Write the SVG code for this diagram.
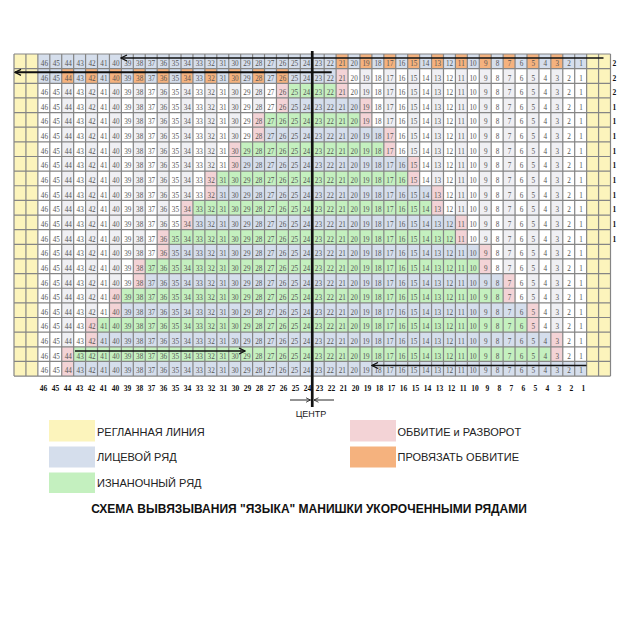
<svg xmlns="http://www.w3.org/2000/svg" width="617" height="624" viewBox="0 0 617 624">
<style>
.y{fill:#fcf4bc}
.b{fill:#d5deec}
.g{fill:#c4f0bf}
.p{fill:#f3d3d6}
.o{fill:#f5b27e}
.f{fill:#efeff3}
.grid{fill:none;stroke:#858585;stroke-width:1.2}
.num{font-family:"Liberation Serif","Times New Roman",serif;font-size:7.2px;fill:#555}
.n2{word-spacing:2.93px}
.n1{word-spacing:6.53px}
.lab{font-family:"Liberation Serif","Times New Roman",serif;font-size:7.5px;font-weight:bold;fill:#111}
.l2{word-spacing:2.625px}
.l1{word-spacing:6.375px}
.leg{font-family:"Liberation Sans",Arial,sans-serif;font-size:11px;fill:#222}
.ttl{font-family:"Liberation Sans",Arial,sans-serif;font-size:12px;font-weight:bold;fill:#111}
.arr{fill:none;stroke:#111;stroke-width:1.5}
</style>
<defs>
<marker id="ah" viewBox="0 0 8 8" refX="7" refY="4" markerWidth="8" markerHeight="8" markerUnits="userSpaceOnUse" orient="auto">
<path d="M1,1 L7,4 L1,7" fill="none" stroke="#111" stroke-width="1.3"/>
</marker>
<marker id="ahs" viewBox="0 0 8 8" refX="7" refY="4" markerWidth="6" markerHeight="6" markerUnits="userSpaceOnUse" orient="auto">
<path d="M1,1 L7,4 L1,7" fill="none" stroke="#111" stroke-width="1"/>
</marker>
</defs>
<rect width="617" height="624" fill="#ffffff"/>
<g id="chart">
<g id="cells" transform="translate(14,54) scale(11.93,14.64)">
<path class="y" d="M0 0h2v22h-2z M48 0h2v22h-2z"/>
<path class="f" d="M4 0h1v22h-1z M6 0h1v22h-1z M8 0h1v22h-1z M10 0h1v22h-1z M12 0h1v22h-1z M14 0h1v22h-1z M16 0h1v22h-1z M18 0h1v22h-1z M20 0h1v22h-1z M22 0h1v22h-1z M27 0h1v22h-1z M29 0h1v22h-1z M31 0h1v22h-1z M33 0h1v22h-1z M35 0h1v22h-1z M37 0h1v22h-1z M39 0h1v22h-1z M41 0h1v22h-1z M43 0h1v22h-1z M45 0h1v22h-1z"/>
<path class="b" d="M2 0h46v1h-46z M2 1h25v1h-25z M23 3h6v1h-6z M21 5h10v1h-10z M19 7h14v1h-14z M17 9h18v1h-18z M15 11h22v1h-22z M13 13h26v1h-26z M11 15h30v1h-30z M9 17h34v1h-34z M7 19h38v1h-38z M5 21h43v1h-43z"/>
<path class="g" d="M23 2h4v1h-4z M21 4h8v1h-8z M19 6h12v1h-12z M17 8h16v1h-16z M15 10h20v1h-20z M13 12h24v1h-24z M11 14h28v1h-28z M9 16h32v1h-32z M7 18h36v1h-36z M5 20h40v1h-40z"/>
<path class="p" d="M22 2h1v2h-1z M20 4h1v2h-1z M18 6h1v2h-1z M16 8h1v2h-1z M14 10h1v2h-1z M12 12h1v2h-1z M10 14h1v2h-1z M8 16h1v2h-1z M6 18h1v2h-1z M4 20h1v2h-1z M27 1h1v2h-1z M29 3h1v2h-1z M31 5h1v2h-1z M33 7h1v2h-1z M35 9h1v2h-1z M37 11h1v2h-1z M39 13h1v2h-1z M41 15h1v2h-1z M43 17h1v2h-1z M45 19h1v2h-1z"/>
<path class="o" d="M27 0h1v1h-1z M29 0h1v1h-1z M31 0h1v1h-1z M33 0h1v1h-1z M35 0h1v1h-1z M37 0h1v1h-1z M39 0h1v1h-1z M41 0h1v1h-1z M43 0h1v1h-1z M45 0h1v1h-1z M4 1h1v1h-1z M6 1h1v1h-1z M8 1h1v1h-1z M10 1h1v1h-1z M12 1h1v1h-1z M14 1h1v1h-1z M16 1h1v1h-1z M18 1h1v1h-1z M20 1h1v1h-1z M22 1h1v1h-1z"/>
<path class="grid" vector-effect="non-scaling-stroke" d="M0 0V22M1 0V22M2 0V22M3 0V22M4 0V22M5 0V22M6 0V22M7 0V22M8 0V22M9 0V22M10 0V22M11 0V22M12 0V22M13 0V22M14 0V22M15 0V22M16 0V22M17 0V22M18 0V22M19 0V22M20 0V22M21 0V22M22 0V22M23 0V22M24 0V22M25 0V22M26 0V22M27 0V22M28 0V22M29 0V22M30 0V22M31 0V22M32 0V22M33 0V22M34 0V22M35 0V22M36 0V22M37 0V22M38 0V22M39 0V22M40 0V22M41 0V22M42 0V22M43 0V22M44 0V22M45 0V22M46 0V22M47 0V22M48 0V22M49 0V22M50 0V22M0 0H50M0 1H50M0 2H50M0 3H50M0 4H50M0 5H50M0 6H50M0 7H50M0 8H50M0 9H50M0 10H50M0 11H50M0 12H50M0 13H50M0 14H50M0 15H50M0 16H50M0 17H50M0 18H50M0 19H50M0 20H50M0 21H50M0 22H50"/>
</g>
<g id="cell-numbers" class="num">
<text class="n2" x="40.8" y="65.9">46 45 44 43 42 41 40 39 38 37 36 35 34 33 32 31 30 29 28 27 26 25 24 23 22 21 20 19 18 17 16 15 14 13 12 11 10</text><text class="n1" x="483.9" y="65.9">9 8 7 6 5 4 3 2 1</text>
<text class="n2" x="40.8" y="80.54">46 45 44 43 42 41 40 39 38 37 36 35 34 33 32 31 30 29 28 27 26 25 24 23 22 21 20 19 18 17 16 15 14 13 12 11 10</text><text class="n1" x="483.9" y="80.54">9 8 7 6 5 4 3 2 1</text>
<text class="n2" x="40.8" y="95.18">46 45 44 43 42 41 40 39 38 37 36 35 34 33 32 31 30 29 28 27 26 25 24 23 22 21 20 19 18 17 16 15 14 13 12 11 10</text><text class="n1" x="483.9" y="95.18">9 8 7 6 5 4 3 2 1</text>
<text class="n2" x="40.8" y="109.82">46 45 44 43 42 41 40 39 38 37 36 35 34 33 32 31 30 29 28 27 26 25 24 23 22 21 20 19 18 17 16 15 14 13 12 11 10</text><text class="n1" x="483.9" y="109.82">9 8 7 6 5 4 3 2 1</text>
<text class="n2" x="40.8" y="124.46">46 45 44 43 42 41 40 39 38 37 36 35 34 33 32 31 30 29 28 27 26 25 24 23 22 21 20 19 18 17 16 15 14 13 12 11 10</text><text class="n1" x="483.9" y="124.46">9 8 7 6 5 4 3 2 1</text>
<text class="n2" x="40.8" y="139.1">46 45 44 43 42 41 40 39 38 37 36 35 34 33 32 31 30 29 28 27 26 25 24 23 22 21 20 19 18 17 16 15 14 13 12 11 10</text><text class="n1" x="483.9" y="139.1">9 8 7 6 5 4 3 2 1</text>
<text class="n2" x="40.8" y="153.74">46 45 44 43 42 41 40 39 38 37 36 35 34 33 32 31 30 29 28 27 26 25 24 23 22 21 20 19 18 17 16 15 14 13 12 11 10</text><text class="n1" x="483.9" y="153.74">9 8 7 6 5 4 3 2 1</text>
<text class="n2" x="40.8" y="168.38">46 45 44 43 42 41 40 39 38 37 36 35 34 33 32 31 30 29 28 27 26 25 24 23 22 21 20 19 18 17 16 15 14 13 12 11 10</text><text class="n1" x="483.9" y="168.38">9 8 7 6 5 4 3 2 1</text>
<text class="n2" x="40.8" y="183.02">46 45 44 43 42 41 40 39 38 37 36 35 34 33 32 31 30 29 28 27 26 25 24 23 22 21 20 19 18 17 16 15 14 13 12 11 10</text><text class="n1" x="483.9" y="183.02">9 8 7 6 5 4 3 2 1</text>
<text class="n2" x="40.8" y="197.66">46 45 44 43 42 41 40 39 38 37 36 35 34 33 32 31 30 29 28 27 26 25 24 23 22 21 20 19 18 17 16 15 14 13 12 11 10</text><text class="n1" x="483.9" y="197.66">9 8 7 6 5 4 3 2 1</text>
<text class="n2" x="40.8" y="212.3">46 45 44 43 42 41 40 39 38 37 36 35 34 33 32 31 30 29 28 27 26 25 24 23 22 21 20 19 18 17 16 15 14 13 12 11 10</text><text class="n1" x="483.9" y="212.3">9 8 7 6 5 4 3 2 1</text>
<text class="n2" x="40.8" y="226.94">46 45 44 43 42 41 40 39 38 37 36 35 34 33 32 31 30 29 28 27 26 25 24 23 22 21 20 19 18 17 16 15 14 13 12 11 10</text><text class="n1" x="483.9" y="226.94">9 8 7 6 5 4 3 2 1</text>
<text class="n2" x="40.8" y="241.58">46 45 44 43 42 41 40 39 38 37 36 35 34 33 32 31 30 29 28 27 26 25 24 23 22 21 20 19 18 17 16 15 14 13 12 11 10</text><text class="n1" x="483.9" y="241.58">9 8 7 6 5 4 3 2 1</text>
<text class="n2" x="40.8" y="256.22">46 45 44 43 42 41 40 39 38 37 36 35 34 33 32 31 30 29 28 27 26 25 24 23 22 21 20 19 18 17 16 15 14 13 12 11 10</text><text class="n1" x="483.9" y="256.22">9 8 7 6 5 4 3 2 1</text>
<text class="n2" x="40.8" y="270.86">46 45 44 43 42 41 40 39 38 37 36 35 34 33 32 31 30 29 28 27 26 25 24 23 22 21 20 19 18 17 16 15 14 13 12 11 10</text><text class="n1" x="483.9" y="270.86">9 8 7 6 5 4 3 2 1</text>
<text class="n2" x="40.8" y="285.5">46 45 44 43 42 41 40 39 38 37 36 35 34 33 32 31 30 29 28 27 26 25 24 23 22 21 20 19 18 17 16 15 14 13 12 11 10</text><text class="n1" x="483.9" y="285.5">9 8 7 6 5 4 3 2 1</text>
<text class="n2" x="40.8" y="300.14">46 45 44 43 42 41 40 39 38 37 36 35 34 33 32 31 30 29 28 27 26 25 24 23 22 21 20 19 18 17 16 15 14 13 12 11 10</text><text class="n1" x="483.9" y="300.14">9 8 7 6 5 4 3 2 1</text>
<text class="n2" x="40.8" y="314.78">46 45 44 43 42 41 40 39 38 37 36 35 34 33 32 31 30 29 28 27 26 25 24 23 22 21 20 19 18 17 16 15 14 13 12 11 10</text><text class="n1" x="483.9" y="314.78">9 8 7 6 5 4 3 2 1</text>
<text class="n2" x="40.8" y="329.42">46 45 44 43 42 41 40 39 38 37 36 35 34 33 32 31 30 29 28 27 26 25 24 23 22 21 20 19 18 17 16 15 14 13 12 11 10</text><text class="n1" x="483.9" y="329.42">9 8 7 6 5 4 3 2 1</text>
<text class="n2" x="40.8" y="344.06">46 45 44 43 42 41 40 39 38 37 36 35 34 33 32 31 30 29 28 27 26 25 24 23 22 21 20 19 18 17 16 15 14 13 12 11 10</text><text class="n1" x="483.9" y="344.06">9 8 7 6 5 4 3 2 1</text>
<text class="n2" x="40.8" y="358.7">46 45 44 43 42 41 40 39 38 37 36 35 34 33 32 31 30 29 28 27 26 25 24 23 22 21 20 19 18 17 16 15 14 13 12 11 10</text><text class="n1" x="483.9" y="358.7">9 8 7 6 5 4 3 2 1</text>
<text class="n2" x="40.8" y="373.34">46 45 44 43 42 41 40 39 38 37 36 35 34 33 32 31 30 29 28 27 26 25 24 23 22 21 20 19 18 17 16 15 14 13 12 11 10</text><text class="n1" x="483.9" y="373.34">9 8 7 6 5 4 3 2 1</text>
</g>
<g id="column-labels" class="lab">
<text class="l2" x="39.75" y="390.5">46 45 44 43 42 41 40 39 38 37 36 35 34 33 32 31 30 29 28 27 26 25 24 23 22 21 20 19 18 17 16 15 14 13 12 11 10</text>
<text class="l1" x="485.6" y="390.5">9 8 7 6 5 4 3 2 1</text>
</g>
<g id="row-labels" class="lab">
<text x="612.6" y="65.9">2</text><text x="612.6" y="80.54">2</text><text x="612.6" y="95.18">2</text>
<text x="612.6" y="109.82">1</text><text x="612.6" y="124.46">1</text><text x="612.6" y="139.1">1</text><text x="612.6" y="153.74">1</text><text x="612.6" y="168.38">1</text><text x="612.6" y="183.02">1</text><text x="612.6" y="197.66">1</text><text x="612.6" y="212.3">1</text><text x="612.6" y="226.94">1</text><text x="612.6" y="241.58">1</text>
</g>
</g>
<g id="connectors">
<path class="arr" d="M603.5 58 H121" marker-end="url(#ah)"/>
<path class="arr" style="stroke-width:2" d="M331.7 72.3 H15" marker-end="url(#ah)"/>
<path class="arr" d="M75 351 H245" marker-end="url(#ah)"/>
<path class="arr" d="M586.5 365.5 H372" marker-end="url(#ah)"/>
<path d="M312.25 51 V407" fill="none" stroke="#111" stroke-width="2.7"/>
<path d="M290 400 H310.5" fill="none" stroke="#111" stroke-width="0.9" marker-end="url(#ahs)"/>
<path d="M334 400 H314" fill="none" stroke="#111" stroke-width="0.9" marker-end="url(#ahs)"/>
</g>
<g id="center-label"><text x="311" y="416.5" text-anchor="middle" style="font-family:'Liberation Sans',Arial,sans-serif;font-size:9px;fill:#222">ЦЕНТР</text></g>
<g id="legend-raglan"><rect x="49" y="420" width="46" height="21.5" class="y"/><text class="leg" x="97" y="435.6">РЕГЛАННАЯ ЛИНИЯ</text></g>
<g id="legend-knit"><rect x="49" y="446.5" width="46" height="21" class="b"/><text class="leg" x="97" y="461.2">ЛИЦЕВОЙ РЯД</text></g>
<g id="legend-purl"><rect x="49" y="472.5" width="46" height="20.5" class="g"/><text class="leg" x="97" y="486.6">ИЗНАНОЧНЫЙ РЯД</text></g>
<g id="legend-wrap"><rect x="350" y="420" width="46" height="21.5" class="p"/><text class="leg" x="397.5" y="435.6">ОБВИТИЕ и РАЗВОРОТ</text></g>
<g id="legend-pickup"><rect x="350" y="446.5" width="46" height="21" class="o"/><text class="leg" x="397.5" y="461.2">ПРОВЯЗАТЬ ОБВИТИЕ</text></g>
<g id="title"><text class="ttl" x="309" y="513" text-anchor="middle">СХЕМА ВЫВЯЗЫВАНИЯ "ЯЗЫКА" МАНИШКИ УКОРОЧЕННЫМИ РЯДАМИ</text></g>
</svg>
